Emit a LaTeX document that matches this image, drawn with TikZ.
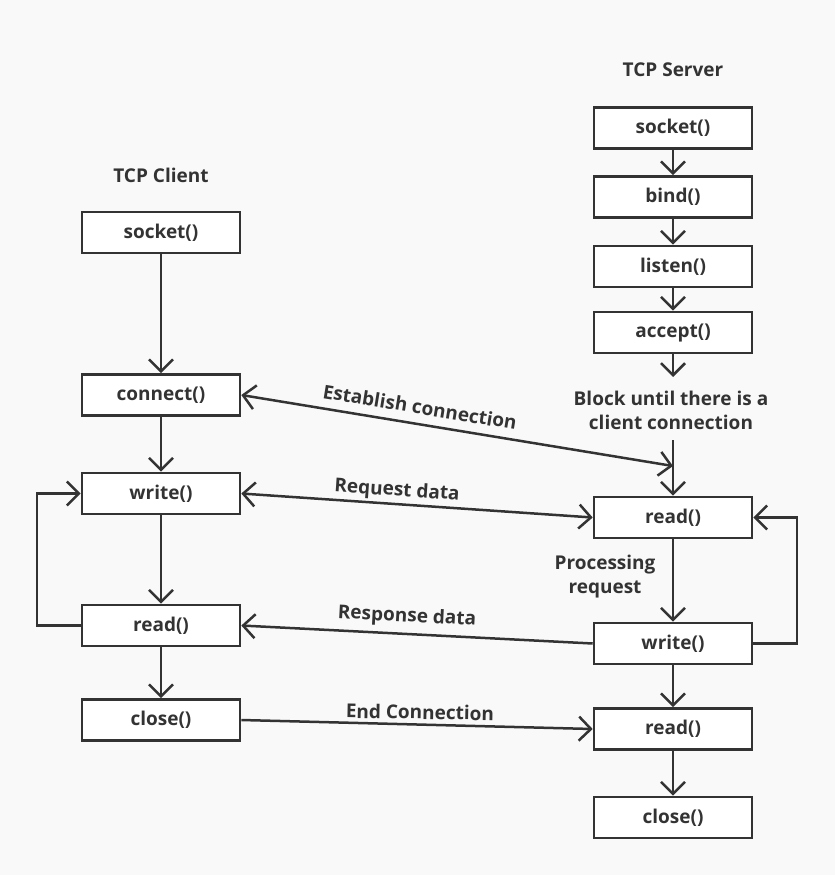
\documentclass[tikz,border=0pt]{standalone}
\usepackage{fontspec}
\setmainfont{Open Sans}
\usetikzlibrary{arrows.meta}
\definecolor{ink}{HTML}{333333}
\definecolor{bg}{HTML}{F9F9F9}
\begin{document}
\begin{tikzpicture}[x=1pt,y=1pt,
  font=\fontsize{19}{24}\selectfont\bfseries,
  box/.style={draw=ink, line width=2.6pt, fill=white, minimum width=158pt, minimum height=41pt, inner sep=0pt, text=ink},
  lbl/.style={text=ink, inner sep=0pt},
  conn/.style={draw=ink, line width=2.5pt},
  tip/.style={-{Straight Barb[length=12pt,width=24pt,line width=2.5pt]}},
  bitip/.style={{Straight Barb[length=12pt,width=24pt,line width=2.5pt]}-{Straight Barb[length=12pt,width=24pt,line width=2.5pt]}}
]
\fill[bg] (0,0) rectangle (835,-875);
\useasboundingbox (0,0) rectangle (835,-875);

% client
\node[lbl] (ct) at (161,-175) {TCP Client};
\node[box] (cs) at (161,-232.5) {socket()};
\node[box] (cc) at (161,-395) {connect()};
\node[box] (cw) at (161,-493.5) {write()};
\node[box] (cr) at (161,-625.5) {read()};
\node[box] (cx) at (161,-720) {close()};

% server
\node[lbl] (st) at (673,-70) {TCP Server};
\node[box] (ss) at (673,-128) {socket()};
\node[box] (sb) at (673,-197) {bind()};
\node[box] (sl) at (673,-266.5) {listen()};
\node[box] (sa) at (673,-332.5) {accept()};
\node[lbl, align=center] (sk) at (671,-410) {Block until there is a\\client connection};
\node[box] (sr) at (673,-517.5) {read()};
\node[box] (sw) at (673,-643.5) {write()};
\node[box] (sr2) at (673,-729) {read()};
\node[box] (sx) at (673,-817.5) {close()};
\node[lbl, align=center] (pr) at (605,-577) {Processing\\request};

\coordinate (blk) at (673,-377);
\coordinate (top) at (673,-440);
\coordinate (est) at (673,-466);
\coordinate (cl) at (37,-625.5);
\coordinate (cl2) at (37,-493.5);
\coordinate (sl1) at (797,-643.5);
\coordinate (sl2) at (797,-517.5);

% client flow
\draw[conn,tip] (cs) -- (cc);
\draw[conn,tip] (cc) -- (cw);
\draw[conn,tip] (cw) -- (cr);
\draw[conn,tip] (cr) -- (cx);
\draw[conn,tip] (cr.west) -- (cl) -- (cl2) -- (cw.west);

% server flow
\draw[conn,tip] (ss) -- (sb);
\draw[conn,tip] (sb) -- (sl);
\draw[conn,tip] (sl) -- (sa);
\draw[conn,tip] (sa) -- (blk);
\draw[conn,tip] (top) -- (sr);
\draw[conn,tip] (sr) -- (sw);
\draw[conn,tip] (sw) -- (sr2);
\draw[conn,tip] (sr2) -- (sx);
\draw[conn,tip] (sw.east) -- (sl1) -- (sl2) -- (sr.east);

% messages
\draw[conn,bitip] (cc.east) -- (est);
\draw[conn,bitip] (cw.east) -- (sr.west);
\draw[conn,tip] (sw.west) -- (cr.east);
\draw[conn,tip] (cx.east) -- (sr2.west);

\node[lbl, rotate=-9.3] (le) at (420,-407) {Establish connection};
\node[lbl, rotate=-3.9] (lr) at (397,-491) {Request data};
\node[lbl, rotate=-3.0] (lp) at (407,-617) {Response data};
\node[lbl, rotate=-1.0] (lx) at (420,-712) {End Connection};
\end{tikzpicture}
\end{document}
